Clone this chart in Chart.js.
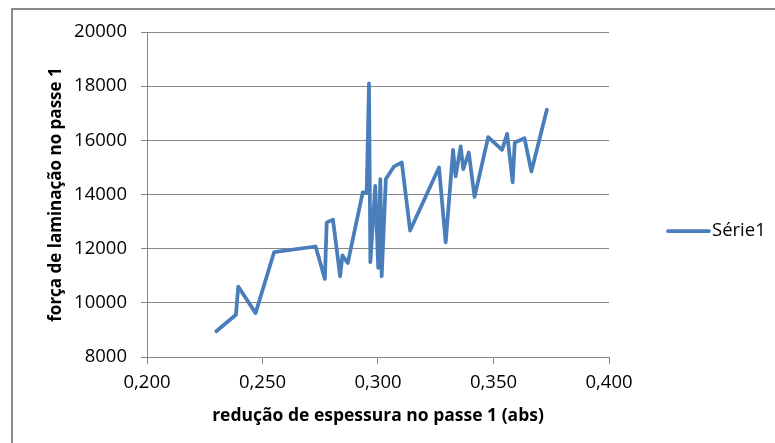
<!DOCTYPE html>
<html>
<head>
<meta charset="utf-8">
<script src="https://cdn.jsdelivr.net/npm/chart.js@4.4.0/dist/chart.umd.min.js"></script>
<style>
  html, body { margin: 0; padding: 0; background: #fff; overflow: hidden; }
  #wrap { position: relative; width: 775px; height: 443px; overflow: hidden; }
  #frame {
    position: absolute; left: 11px; top: 8px; width: 900px; height: 600px;
    border-left: 2px solid #8a8a8a; border-top: 2px solid #8a8a8a;
  }
  canvas { position: absolute; left: 0; top: 0; }
</style>
</head>
<body>
<div id="wrap">
  <div id="frame"></div>
  <canvas id="chart" width="775" height="443"></canvas>
</div>
<script>
// redução de espessura (abs) x força de laminação, passe 1
const reducao = [
  0.2300, 0.2385, 0.2395, 0.2470, 0.2550, 0.2730, 0.2770, 0.2778, 0.2805, 0.2836,
  0.2846, 0.2869, 0.2934, 0.2951, 0.2961, 0.2967, 0.2988, 0.3001, 0.3010, 0.3016,
  0.3034, 0.3070, 0.3103, 0.3139, 0.3264, 0.3293, 0.3325, 0.3336, 0.3358, 0.3369,
  0.3393, 0.3418, 0.3477, 0.3537, 0.3559, 0.3583, 0.3592, 0.3634, 0.3664, 0.3731
];
const forca = [
  8950, 9560, 10600, 9620, 11870, 12080, 10880, 12970, 13070, 10980,
  11750, 11470, 14080, 14070, 18100, 11500, 14320, 11290, 14570, 10980,
  14570, 15040, 15180, 12670, 15000, 12230, 15650, 14670, 15780, 14940,
  15550, 13910, 16120, 15650, 16240, 14450, 15920, 16080, 14850, 17130
];
const serie = 'Série1';
const xTitulo = 'redução de espessura no passe 1 (abs)';
const yTitulo = 'força de laminação no passe 1';
const xLimites = [0.2, 0.4, 0.05];
const yLimites = [8000, 20000, 2000];

const AZUL = '#4a7ebb';
const CINZA = '#868686';
const FONTE = '"Open Sans", "Liberation Sans", sans-serif';

// Excel-style legend sitting to the right of the plot
const legendaLateral = {
  id: 'legendaLateral',
  afterDraw(chart) {
    const ctx = chart.ctx;
    const ds = chart.data.datasets[0];
    const y = 231;
    ctx.save();
    ctx.strokeStyle = ds.borderColor;
    ctx.lineWidth = ds.borderWidth;
    ctx.lineCap = 'round';
    ctx.beginPath();
    ctx.moveTo(668, y);
    ctx.lineTo(709, y);
    ctx.stroke();
    ctx.font = '18.5px ' + FONTE;
    ctx.fillStyle = '#000';
    ctx.textBaseline = 'middle';
    ctx.fillText(ds.label, 712, y);
    ctx.restore();
  }
};

new Chart(document.getElementById('chart'), {
  type: 'scatter',
  data: {
    datasets: [{
      label: serie,
      data: reducao.map((x, i) => ({ x, y: forca[i] })),
      showLine: true,
      borderColor: AZUL,
      backgroundColor: AZUL,
      borderWidth: 3.75,
      borderJoinStyle: 'round',
      borderCapStyle: 'round',
      pointRadius: 0,
      pointHoverRadius: 0,
      tension: 0
    }]
  },
  options: {
    responsive: false,
    animation: false,
    devicePixelRatio: 1,
    layout: { padding: { left: 0, top: 32, right: 166, bottom: 0 } },
    plugins: {
      legend: { display: false },
      tooltip: { enabled: false }
    },
    scales: {
      x: {
        type: 'linear',
        min: xLimites[0],
        max: xLimites[1],
        ticks: {
          stepSize: xLimites[2],
          color: '#000',
          padding: 8,
          font: { family: FONTE, size: 18.5 },
          callback: v => v.toFixed(3).replace('.', ',')
        },
        grid: { drawOnChartArea: false, drawTicks: true, tickLength: 7, color: CINZA },
        border: { color: CINZA },
        title: {
          display: true,
          text: xTitulo,
          color: '#000',
          font: { family: FONTE, size: 17.5, weight: 'bold' },
          padding: { top: 0, bottom: 16 }
        },
        afterFit: s => { s.height = 86; }
      },
      y: {
        min: yLimites[0],
        max: yLimites[1],
        ticks: {
          stepSize: yLimites[2],
          color: '#000',
          padding: 14,
          font: { family: FONTE, size: 18.5 },
          callback: v => String(v)
        },
        grid: { color: CINZA, tickLength: 6 },
        border: { color: CINZA },
        title: {
          display: true,
          text: yTitulo,
          color: '#000',
          font: { family: FONTE, size: 17, weight: 'bold' },
          padding: { top: 46, bottom: 0 }
        },
        afterFit: s => { s.width = 147; }
      }
    }
  },
  plugins: [legendaLateral]
});
</script>
</body>
</html>
